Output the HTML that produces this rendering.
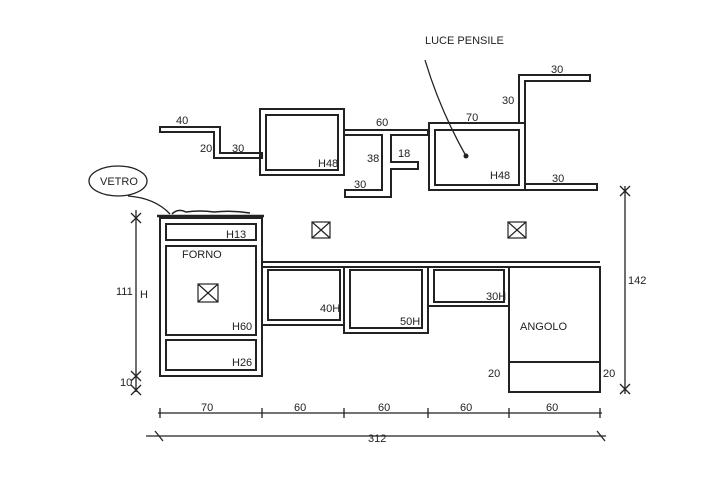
<!DOCTYPE html>
<html><head><meta charset="utf-8"><style>
html,body{margin:0;padding:0;background:#fff}
svg{display:block}
text{font-family:"Liberation Sans",sans-serif;fill:#222;font-size:11px}
</style></head><body>
<svg width="716" height="478" viewBox="0 0 716 478" xmlns="http://www.w3.org/2000/svg">
<g fill="none" stroke="#222" stroke-width="2">
<polygon points="160,127 220,127 220,153 262,153 262,158 214,158 214,132 160,132"/>
<rect x="260" y="109" width="84" height="66"/>
<rect x="266" y="115" width="72" height="55"/>
<polygon points="344,130 428,130 428,135 391,135 391,162 418,162 418,169 391,169 391,197 345,197 345,190 382,190 382,135 344,135"/>
<rect x="429" y="123" width="96" height="67"/>
<rect x="435" y="130" width="84" height="55"/>
<path d="M519,123 L519,75 L590,75 L590,81 L525,81 L525,184 L597,184 L597,190 L525,190"/>
<rect x="160" y="218" width="102" height="158"/>
<rect x="166" y="224" width="90" height="16"/>
<rect x="166" y="246" width="90" height="89"/>
<rect x="166" y="340" width="90" height="30"/>
<path d="M157,216 L264,216" stroke-width="2.5"/>
<path d="M172,214 Q178,208 186,212 Q200,210 214,212 Q232,210 250,213" stroke-width="1.5"/>
<line x1="262" y1="262" x2="600" y2="262"/>
<line x1="262" y1="267" x2="600" y2="267"/>
<rect x="262" y="267" width="82" height="58"/>
<rect x="268" y="270" width="72" height="50"/>
<rect x="344" y="267" width="84" height="66"/>
<rect x="350" y="270" width="72" height="58"/>
<rect x="428" y="267" width="81" height="39"/>
<rect x="434" y="270" width="70" height="32"/>
<rect x="509" y="267" width="91" height="95"/>
<rect x="509" y="362" width="91" height="30"/>
<g stroke-width="1.2">
<rect x="312" y="222" width="18" height="16"/><path d="M312,222 L330,238 M330,222 L312,238"/>
<rect x="508" y="222" width="18" height="16"/><path d="M508,222 L526,238 M526,222 L508,238"/>
<rect x="198" y="284" width="20" height="18"/><path d="M198,284 L218,302 M218,284 L198,302"/>
</g>
<g stroke-width="1.3">
<line x1="136" y1="210" x2="136" y2="392"/>
<path d="M131,213 L141,223 M141,213 L131,223 M131,371 L141,381 M141,371 L131,381 M131,385 L141,395 M141,385 L131,395"/>
<line x1="625" y1="186" x2="625" y2="394"/>
<path d="M620,186 L630,196 M630,186 L620,196 M620,384 L630,394 M630,384 L620,394"/>
<line x1="158" y1="413" x2="602" y2="413"/>
<path d="M160,408 L160,418 M262,408 L262,418 M344,408 L344,418 M428,408 L428,418 M509,408 L509,418 M600,408 L600,418"/>
<line x1="146" y1="436" x2="606" y2="436"/>
<path d="M155,431 L163,441 M597,431 L605,441"/>
<ellipse cx="118" cy="181" rx="29" ry="15"/>
<path d="M128,196 Q155,198 170,214"/>
<path d="M425,60 Q440,110 466,156"/>
</g>
</g>
<circle cx="466" cy="156" r="2.5" fill="#222"/>
<g>
<text x="176" y="124">40</text><text x="200" y="152" font-size="10">20</text><text x="232" y="152">30</text>
<text x="318" y="167" font-size="10">H48</text>
<text x="376" y="126">60</text><text x="367" y="162">38</text><text x="398" y="157">18</text><text x="354" y="188">30</text>
<text x="466" y="121">70</text><text x="502" y="104">30</text><text x="551" y="73">30</text>
<text x="490" y="179">H48</text><text x="552" y="182">30</text>
<text x="425" y="44" font-size="13">LUCE PENSILE</text>
<text x="100" y="185" font-size="10">VETRO</text>
<text x="226" y="238" font-size="10">H13</text><text x="182" y="258" font-size="10">FORNO</text>
<text x="232" y="330" font-size="10">H60</text><text x="232" y="366" font-size="10">H26</text>
<text x="320" y="312" font-size="10">40H</text><text x="400" y="325" font-size="10">50H</text><text x="486" y="300" font-size="10">30H</text>
<text x="520" y="330" font-size="10">ANGOLO</text>
<text x="488" y="377" font-size="10">20</text><text x="603" y="377" font-size="10">20</text>
<text x="116" y="295">111</text><text x="140" y="298">H</text><text x="120" y="386">10</text>
<text x="628" y="284">142</text>
<text x="201" y="411">70</text><text x="294" y="411">60</text><text x="378" y="411">60</text><text x="460" y="411">60</text><text x="546" y="411">60</text>
<text x="368" y="442" font-size="13">312</text>
</g>
</svg>
</body></html>
